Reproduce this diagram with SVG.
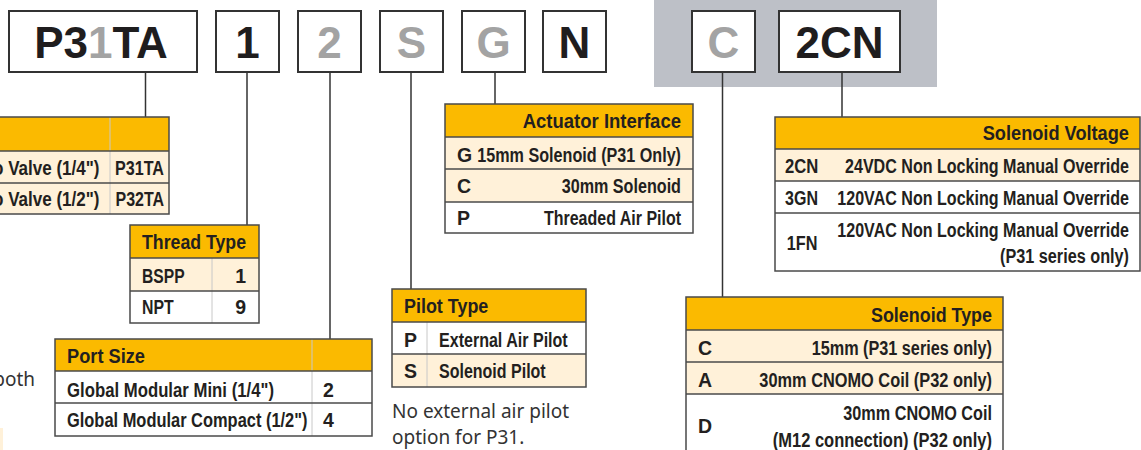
<svg xmlns="http://www.w3.org/2000/svg" width="1141" height="450" viewBox="0 0 1141 450">
<style>
.bg{fill:#fff}
.box{fill:#fff;stroke:#333;stroke-width:2}
.big{font-family:"Liberation Sans",Arial,sans-serif;font-weight:bold;font-size:44px;text-anchor:middle;fill:#1f1d1e}
.g{fill:#a3a3a3}
.hdr{fill:#fbba00}
.cream{fill:#fff1d9}
.white{fill:#fff}
.frame{fill:none;stroke:#4a4a4a;stroke-width:1.5}
.rule{stroke:#4a4a4a;stroke-width:1.5}
.col{stroke:#c8c8c8;stroke-width:1}
.th{font-family:"Liberation Sans",Arial,sans-serif;font-weight:bold;font-size:21px;fill:#231f20}
.td{font-family:"Liberation Sans",Arial,sans-serif;font-weight:bold;font-size:19.5px;fill:#231f20}
.e{text-anchor:end}
.note{font-family:"Noto Sans","Open Sans",sans-serif;font-size:19px;fill:#333}
.conn{stroke:#333;stroke-width:1.5;fill:none}
</style>
<rect class="bg" x="0" y="0" width="1141" height="450"/>
<rect x="654" y="0" width="283" height="87" fill="#bdc0c7"/>
<rect x="0" y="428" width="3" height="22" fill="#fff1d9"/>
<text class="note e" x="35" y="386">both</text>

<g id="connectors">
<line class="conn" x1="145.5" y1="72" x2="145.5" y2="117"/>
<line class="conn" x1="247" y1="72" x2="247" y2="225"/>
<line class="conn" x1="330" y1="72" x2="330" y2="339"/>
<line class="conn" x1="411" y1="72" x2="411" y2="289"/>
<line class="conn" x1="495" y1="72" x2="495" y2="104"/>
<line class="conn" x1="722.5" y1="72" x2="722.5" y2="297"/>
<line class="conn" x1="842" y1="72" x2="842" y2="117"/>
</g>

<g id="box-p31ta"><rect class="box" x="9" y="11" width="188" height="61"/><text class="big" x="101" y="58">P3<tspan class="g">1</tspan>TA</text></g>
<g id="box-1"><rect class="box" x="216" y="11" width="63" height="61"/><text class="big" x="247.5" y="58">1</text></g>
<g id="box-2"><rect class="box" x="298" y="11" width="63" height="61"/><text class="big g" x="329.5" y="58">2</text></g>
<g id="box-s"><rect class="box" x="380" y="11" width="63" height="61"/><text class="big g" x="411.5" y="58">S</text></g>
<g id="box-g"><rect class="box" x="462" y="11" width="63" height="61"/><text class="big g" x="493.5" y="58">G</text></g>
<g id="box-n"><rect class="box" x="543" y="11" width="63" height="61"/><text class="big" x="574.5" y="58">N</text></g>
<g id="box-c"><rect class="box" x="692" y="11" width="63" height="61"/><text class="big g" x="723.5" y="58">C</text></g>
<g id="box-2cn"><rect class="box" x="779" y="11" width="121" height="61"/><text class="big" x="839.5" y="58">2CN</text></g>

<g id="table-product">
<rect class="hdr" x="-10" y="117" width="179" height="34"/>
<rect class="cream" x="-10" y="151" width="179" height="63"/>
<line class="col" x1="110" y1="117" x2="110" y2="214"/>
<line class="rule" x1="-10" y1="151" x2="169" y2="151"/>
<line class="rule" x1="-10" y1="183" x2="169" y2="183"/>
<rect class="frame" x="-10" y="117" width="179" height="97"/>
<text class="td" x="-7" y="175" textLength="106.5" lengthAdjust="spacingAndGlyphs">o Valve (1/4")</text>
<text class="td" x="115" y="175" textLength="49" lengthAdjust="spacingAndGlyphs">P31TA</text>
<text class="td" x="-7" y="206" textLength="106.5" lengthAdjust="spacingAndGlyphs">o Valve (1/2")</text>
<text class="td" x="115.5" y="206" textLength="48.6" lengthAdjust="spacingAndGlyphs">P32TA</text>
</g>

<g id="table-thread">
<rect class="hdr" x="130" y="225" width="129" height="33"/>
<rect class="cream" x="130" y="258" width="129" height="33"/>
<rect class="white" x="130" y="291" width="129" height="32"/>
<line class="col" x1="212" y1="258" x2="212" y2="323"/>
<line class="rule" x1="130" y1="258" x2="259" y2="258"/>
<line class="rule" x1="130" y1="291" x2="259" y2="291"/>
<rect class="frame" x="130" y="225" width="129" height="98"/>
<text class="th" x="142" y="249" textLength="104" lengthAdjust="spacingAndGlyphs">Thread Type</text>
<text class="td" x="142" y="283" textLength="42.6" lengthAdjust="spacingAndGlyphs">BSPP</text>
<text class="td e" x="246" y="283">1</text>
<text class="td" x="142" y="314" textLength="31.7" lengthAdjust="spacingAndGlyphs">NPT</text>
<text class="td e" x="246" y="314">9</text>
</g>

<g id="table-port">
<rect class="hdr" x="55" y="339" width="317" height="32"/>
<rect class="white" x="55" y="371" width="317" height="65"/>
<line class="col" x1="312" y1="339" x2="312" y2="436"/>
<line class="rule" x1="55" y1="371" x2="372" y2="371"/>
<line class="rule" x1="55" y1="403" x2="372" y2="403"/>
<rect class="frame" x="55" y="339" width="317" height="97"/>
<text class="th" x="67" y="363" textLength="78" lengthAdjust="spacingAndGlyphs">Port Size</text>
<text class="td" x="67" y="397" textLength="207" lengthAdjust="spacingAndGlyphs">Global Modular Mini (1/4")</text>
<text class="td" x="323" y="397">2</text>
<text class="td" x="67" y="427" textLength="240.5" lengthAdjust="spacingAndGlyphs">Global Modular Compact (1/2")</text>
<text class="td" x="323" y="427">4</text>
</g>

<g id="table-actuator">
<rect class="hdr" x="445" y="104" width="248" height="33"/>
<rect class="cream" x="445" y="137" width="248" height="65"/>
<rect class="white" x="445" y="202" width="248" height="31"/>
<line class="rule" x1="445" y1="137" x2="693" y2="137"/>
<line class="rule" x1="445" y1="169" x2="693" y2="169"/>
<line class="rule" x1="445" y1="202" x2="693" y2="202"/>
<rect class="frame" x="445" y="104" width="248" height="129"/>
<text class="th" x="522.7" y="128" textLength="158.3" lengthAdjust="spacingAndGlyphs">Actuator Interface</text>
<text class="td" x="457" y="162">G</text>
<text class="td" x="477.3" y="162" textLength="203.7" lengthAdjust="spacingAndGlyphs">15mm Solenoid (P31 Only)</text>
<text class="td" x="457" y="193">C</text>
<text class="td" x="561.7" y="193" textLength="119.3" lengthAdjust="spacingAndGlyphs">30mm Solenoid</text>
<text class="td" x="457" y="225">P</text>
<text class="td" x="544" y="225" textLength="137" lengthAdjust="spacingAndGlyphs">Threaded Air Pilot</text>
</g>

<g id="table-pilot">
<rect class="hdr" x="392" y="289" width="194" height="33"/>
<rect class="white" x="392" y="322" width="194" height="32"/>
<rect class="cream" x="392" y="354" width="194" height="33"/>
<line class="col" x1="427" y1="322" x2="427" y2="387"/>
<line class="rule" x1="392" y1="322" x2="586" y2="322"/>
<line class="rule" x1="392" y1="354" x2="586" y2="354"/>
<rect class="frame" x="392" y="289" width="194" height="98"/>
<text class="th" x="404" y="313" textLength="84.3" lengthAdjust="spacingAndGlyphs">Pilot Type</text>
<text class="td" x="404" y="347">P</text>
<text class="td" x="439" y="347" textLength="128.7" lengthAdjust="spacingAndGlyphs">External Air Pilot</text>
<text class="td" x="404" y="378">S</text>
<text class="td" x="439" y="378" textLength="106.7" lengthAdjust="spacingAndGlyphs">Solenoid Pilot</text>
<text class="note" x="392" y="418">No external air pilot</text>
<text class="note" x="392" y="444">option for P31.</text>
</g>

<g id="table-voltage">
<rect class="hdr" x="775" y="117" width="365" height="32"/>
<rect class="cream" x="775" y="149" width="365" height="32"/>
<rect class="white" x="775" y="181" width="365" height="90"/>
<line class="rule" x1="775" y1="149" x2="1140" y2="149"/>
<line class="rule" x1="775" y1="181" x2="1140" y2="181"/>
<line class="rule" x1="775" y1="213" x2="1140" y2="213"/>
<rect class="frame" x="775" y="117" width="365" height="154"/>
<text class="th" x="982.7" y="140" textLength="146.3" lengthAdjust="spacingAndGlyphs">Solenoid Voltage</text>
<text class="td" x="785" y="173" textLength="33.3" lengthAdjust="spacingAndGlyphs">2CN</text>
<text class="td" x="845" y="173" textLength="284" lengthAdjust="spacingAndGlyphs">24VDC Non Locking Manual Override</text>
<text class="td" x="785" y="205" textLength="33" lengthAdjust="spacingAndGlyphs">3GN</text>
<text class="td" x="837.3" y="205" textLength="291.7" lengthAdjust="spacingAndGlyphs">120VAC Non Locking Manual Override</text>
<text class="td" x="786.7" y="250" textLength="30.7" lengthAdjust="spacingAndGlyphs">1FN</text>
<text class="td" x="837.3" y="237" textLength="291.7" lengthAdjust="spacingAndGlyphs">120VAC Non Locking Manual Override</text>
<text class="td" x="1000" y="263" textLength="129" lengthAdjust="spacingAndGlyphs">(P31 series only)</text>
</g>

<g id="table-soltype">
<rect class="hdr" x="686" y="297" width="317" height="33"/>
<rect class="cream" x="686" y="330" width="317" height="64"/>
<rect class="white" x="686" y="394" width="317" height="66"/>
<line class="rule" x1="686" y1="330" x2="1003" y2="330"/>
<line class="rule" x1="686" y1="362" x2="1003" y2="362"/>
<line class="rule" x1="686" y1="394" x2="1003" y2="394"/>
<rect class="frame" x="686" y="297" width="317" height="163"/>
<text class="th" x="871" y="322" textLength="121" lengthAdjust="spacingAndGlyphs">Solenoid Type</text>
<text class="td" x="698" y="355">C</text>
<text class="td" x="811.7" y="355" textLength="180.3" lengthAdjust="spacingAndGlyphs">15mm (P31 series only)</text>
<text class="td" x="698" y="387">A</text>
<text class="td" x="759.3" y="387" textLength="232.7" lengthAdjust="spacingAndGlyphs">30mm CNOMO Coil (P32 only)</text>
<text class="td" x="698" y="433">D</text>
<text class="td" x="843.3" y="420" textLength="148.7" lengthAdjust="spacingAndGlyphs">30mm CNOMO Coil</text>
<text class="td" x="772.7" y="447" textLength="219.3" lengthAdjust="spacingAndGlyphs">(M12 connection) (P32 only)</text>
</g>
</svg>
